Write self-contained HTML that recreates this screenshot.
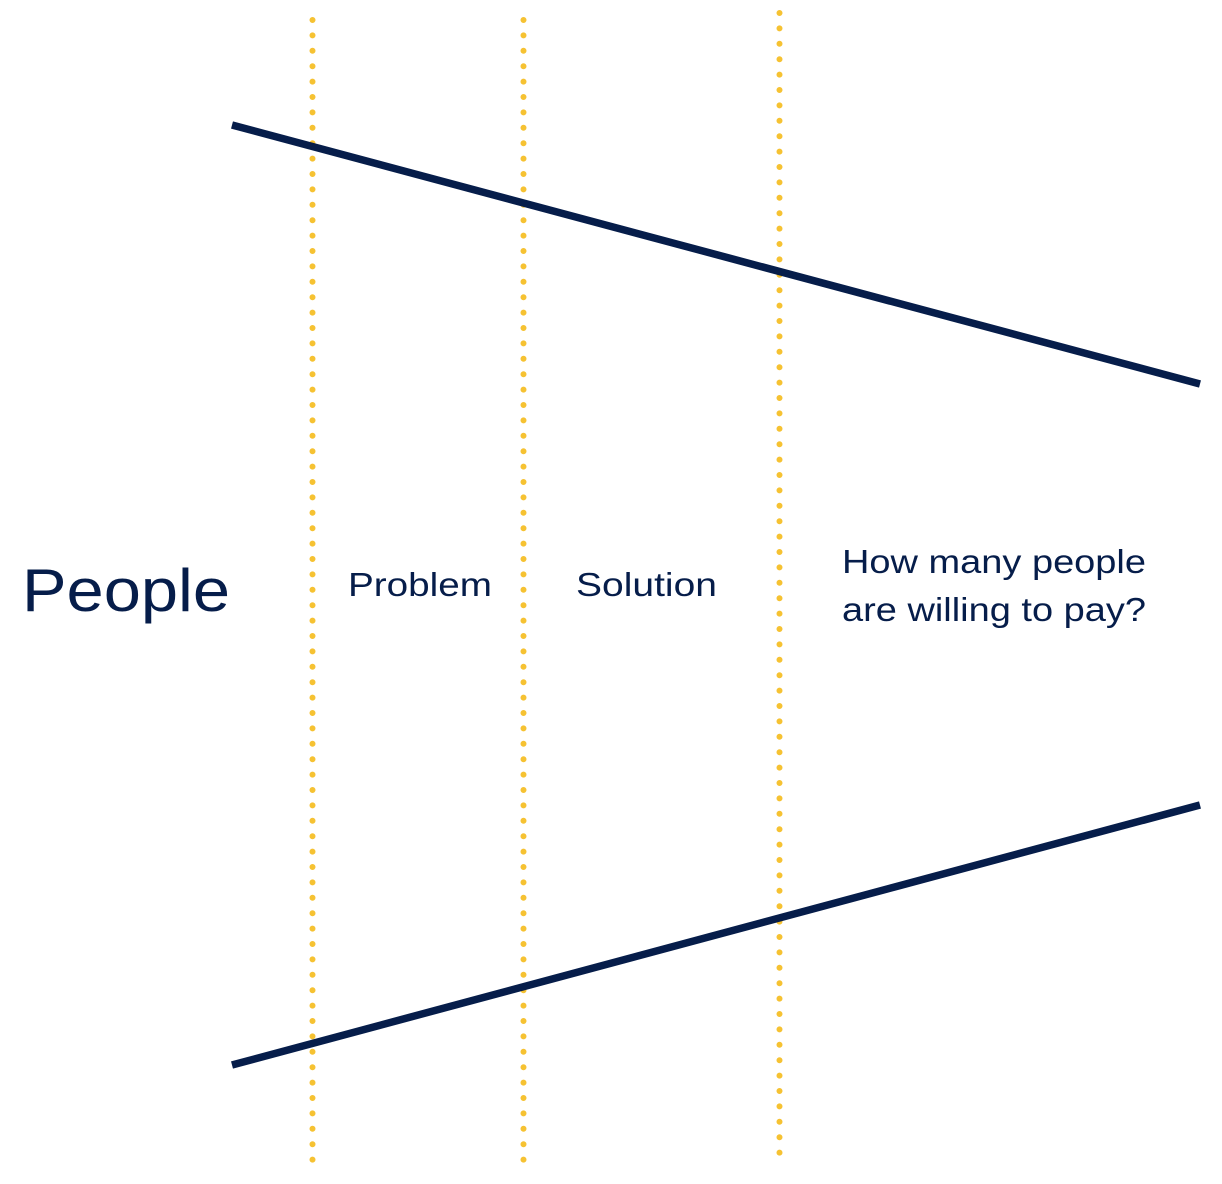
<!DOCTYPE html>
<html><head><style>
html,body{margin:0;padding:0;background:#fff;}
svg{display:block;}
text{font-family:"Liberation Sans",sans-serif;fill:#061d4a;}
</style></head><body>
<svg width="1222" height="1184" viewBox="0 0 1222 1184" xmlns="http://www.w3.org/2000/svg">
<g stroke="#f6c232" stroke-width="6" stroke-linecap="round" stroke-dasharray="0 15.4">
<line x1="312.5" y1="20" x2="312.5" y2="1162"/>
<line x1="523.5" y1="20" x2="523.5" y2="1166"/>
<line x1="779.5" y1="13" x2="779.5" y2="1161"/>
</g>
<g stroke="#061d4a" stroke-width="7.5">
<line x1="232" y1="125" x2="1200" y2="384"/>
<line x1="232" y1="1065" x2="1200" y2="805"/>
</g>
<text x="22" y="611" font-size="60" textLength="208" lengthAdjust="spacingAndGlyphs">People</text>
<text x="348" y="596" font-size="33" textLength="144" lengthAdjust="spacingAndGlyphs">Problem</text>
<text x="576" y="596" font-size="33" textLength="141" lengthAdjust="spacingAndGlyphs">Solution</text>
<text x="842" y="573" font-size="33" textLength="304" lengthAdjust="spacingAndGlyphs">How many people</text>
<text x="842" y="621" font-size="33" textLength="304" lengthAdjust="spacingAndGlyphs">are willing to pay?</text>
</svg>
</body></html>
